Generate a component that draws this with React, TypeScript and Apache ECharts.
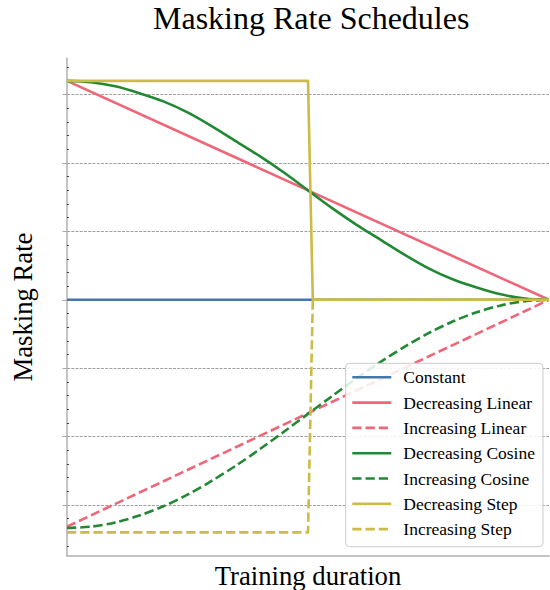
import React, { useEffect, useRef } from "react";
import * as echarts from "echarts";

// ---- text ----
const TITLE = "Masking Rate Schedules";
const X_NAME = "Training duration";
const Y_NAME = "Masking Rate";
const SERIES_NAMES = [
  "Constant",
  "Decreasing Linear",
  "Increasing Linear",
  "Decreasing Cosine",
  "Increasing Cosine",
  "Decreasing Step",
  "Increasing Step",
];

// ---- axis (grid lines, no tick labels shown) ----
const Y_MIN = -0.0371;
const Y_MAX = 0.3265;
const GRID_TICKS = [0, 0.05, 0.1, 0.15, 0.2, 0.25, 0.3];

// ---- data (x = fraction of training, y = masking rate) ----
const CONST_X = [0, 1];
const CONST_Y = [0.15, 0.15];

const LIN_X = [0, 1];
const DEC_LIN_Y = [0.31, 0.15];
const INC_LIN_Y = [-0.0158, 0.15];

const COS_X = [
  0, 0.05, 0.1, 0.15, 0.2, 0.25, 0.3, 0.35, 0.4, 0.45, 0.5,
  0.55, 0.6, 0.65, 0.7, 0.75, 0.8, 0.85, 0.9, 0.95, 1,
];
const DEC_COS_Y = [
  0.31, 0.309, 0.306, 0.301, 0.295, 0.287, 0.277, 0.266, 0.255, 0.243, 0.23,
  0.217, 0.205, 0.194, 0.183, 0.173, 0.165, 0.159, 0.154, 0.151, 0.15,
];
const INC_COS_Y = [
  -0.0168, -0.0158, -0.0127, -0.0077, -0.0009, 0.0076, 0.0176, 0.0287, 0.0408, 0.0536, 0.0666,
  0.0796, 0.0924, 0.1045, 0.1156, 0.1256, 0.1341, 0.1409, 0.1459, 0.149, 0.15,
];

const STEP_X = [0, 0.5, 0.51, 1];
const DEC_STEP_Y = [0.31, 0.31, 0.15, 0.15];
const INC_STEP_Y = [-0.02, -0.02, 0.15, 0.15];

const BLUE = "#4477AA";
const RED = "#EE6677";
const GREEN = "#228833";
const YELLOW = "#CCBB44";

const zip = (xs: number[], ys: number[]) => xs.map((x, i) => [x, ys[i]]);

export default function App() {
  const ref = useRef<HTMLDivElement>(null);

  useEffect(() => {
    document.body.style.margin = "0";
    const chart = echarts.init(ref.current!, null, { renderer: "svg" });
    const font = "'Liberation Serif', 'Times New Roman', Times, serif";
    const DASH = [9.25, 4];

    const mk = (name: string, color: string, data: number[][], dashed: boolean, smooth: boolean) => ({
      name,
      type: "line",
      data,
      symbol: "none",
      showSymbol: false,
      clip: false,
      smooth: smooth ? 0.3 : false,
      z: 3,
      lineStyle: { color, width: 2.6, type: dashed ? DASH : "solid", cap: "butt", join: "round" },
      itemStyle: { color },
      emphasis: { disabled: true },
    });

    const series = [
      mk(SERIES_NAMES[0], BLUE, zip(CONST_X, CONST_Y), false, false),
      mk(SERIES_NAMES[1], RED, zip(LIN_X, DEC_LIN_Y), false, false),
      mk(SERIES_NAMES[2], RED, zip(LIN_X, INC_LIN_Y), true, false),
      mk(SERIES_NAMES[3], GREEN, zip(COS_X, DEC_COS_Y), false, true),
      mk(SERIES_NAMES[4], GREEN, zip(COS_X, INC_COS_Y), true, true),
      mk(SERIES_NAMES[5], YELLOW, zip(STEP_X, DEC_STEP_Y), false, false),
      mk(SERIES_NAMES[6], YELLOW, zip(STEP_X, INC_STEP_Y), true, false),
    ];

    chart.setOption({
      animation: false,
      textStyle: { fontFamily: font },
      title: {
        text: TITLE,
        left: 153,
        top: 1.5,
        padding: 0,
        textStyle: { fontFamily: font, fontSize: 32, fontWeight: "normal", color: "#000" },
      },
      legend: {
        data: SERIES_NAMES,
        orient: "vertical",
        left: 345.7,
        top: 363.3,
        padding: [5, 8, 8.6, 5.3],
        itemWidth: 39,
        itemHeight: 18,
        itemGap: 7.3,
        backgroundColor: "rgba(255,255,255,0.85)",
        borderColor: "#cccccc",
        borderWidth: 1,
        borderRadius: 4,
        selectedMode: false,
        itemStyle: { opacity: 0 },
        lineStyle: { width: 2.6 },
        textStyle: {
          fontFamily: font,
          fontSize: 17.5,
          lineHeight: 18,
          color: "#000",
          padding: [0, 0, 0, 7],
        },
      },
      grid: {
        left: 67,
        right: 1,
        top: 58.3,
        bottom: 34.2,
        containLabel: false,
        outerBoundsMode: "none",
      },
      xAxis: {
        type: "value",
        min: 0,
        max: 1,
        name: X_NAME,
        nameLocation: "middle",
        nameGap: 7,
        nameTextStyle: { fontFamily: font, fontSize: 26.7, color: "#000", verticalAlign: "top" },
        axisLine: { show: true, onZero: false, lineStyle: { color: "#b0b0b0", width: 1.5 } },
        axisTick: { show: false },
        axisLabel: { show: false },
        splitLine: { show: false },
      },
      yAxis: [
        {
          type: "value",
          min: Y_MIN,
          max: Y_MAX,
          minInterval: 0.05,
          maxInterval: 0.05,
          position: "left",
          name: Y_NAME,
          nameLocation: "middle",
          nameGap: 31,
          nameRotate: 90,
          nameTextStyle: { fontFamily: font, fontSize: 26.7, color: "#000" },
          axisLine: { show: true, onZero: false, lineStyle: { color: "#b0b0b0", width: 1.5 } },
          axisTick: {
            show: true,
            inside: false,
            length: 4.5,
            customValues: GRID_TICKS,
            lineStyle: { color: "#a8a8a8", width: 1 },
          },
          axisLabel: { show: false },
          splitLine: {
            show: true,
            lineStyle: { color: "#888888", width: 0.8, type: [2.96, 1.28] },
          },
        },
        {
          type: "value",
          min: Y_MIN,
          max: Y_MAX,
          minInterval: 0.05,
          maxInterval: 0.05,
          position: "left",
          offset: 0,
          axisLine: { show: false, onZero: false },
          axisTick: { show: false, inside: true },
          axisLabel: { show: false },
          splitLine: { show: false },
          minorTick: { show: true, splitNumber: 5, length: 2, lineStyle: { color: "#333", width: 0.9 } },
        },
      ],
      series,
    });

    return () => chart.dispose();
  }, []);

  return <div ref={ref} style={{ width: 550, height: 590 }} />;
}
